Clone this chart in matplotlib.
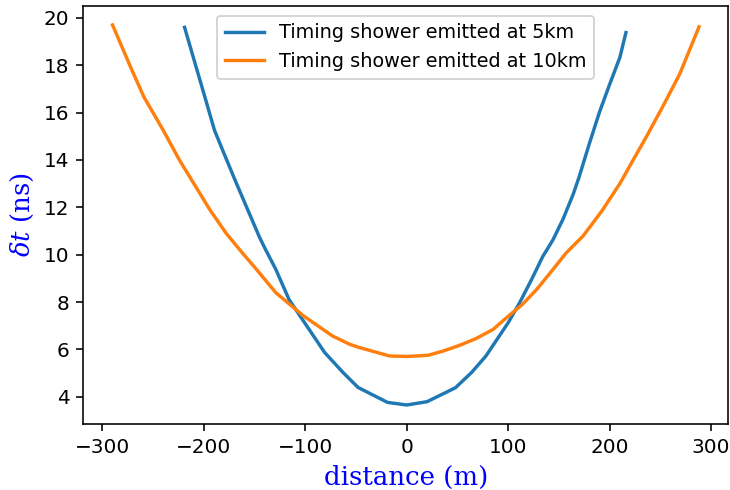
import matplotlib
matplotlib.use("Agg")
import matplotlib.pyplot as plt

plt.rcParams['mathtext.fontset'] = 'dejavuserif'

# 5 km curve
blue_x = [-219, -208, -198, -189.5, -178, -168, -155, -145, -139, -129, -116, -100,
          -81, -63, -48, -19, 0, 20, 48, 64, 78, 100, 111, 123, 134, 144, 154,
          164, 170, 180, 190, 200, 210, 216]
blue_y = [19.6, 17.98, 16.51, 15.25, 14.05, 13.02, 11.72, 10.72, 10.2, 9.37, 8.1, 7.08,
          5.87, 5.03, 4.39, 3.76, 3.65, 3.79, 4.38, 5.03, 5.72, 7.13, 7.95, 8.95,
          9.92, 10.62, 11.5, 12.55, 13.3, 14.7, 16.03, 17.2, 18.33, 19.38]

# 10 km curve
orange_x = [-290, -272, -259, -240, -224, -208, -194, -178, -162, -148, -129, -102,
            -73, -56, -47, -17, 0, 21, 36, 52, 68, 85, 100, 114, 128, 144, 157,
            174, 193, 210, 223, 236, 252, 269, 288]
orange_y = [19.7, 17.9, 16.65, 15.25, 13.99, 12.87, 11.89, 10.9, 10.07, 9.37, 8.39, 7.42,
            6.56, 6.21, 6.08, 5.72, 5.70, 5.75, 5.93, 6.17, 6.45, 6.84, 7.4, 7.9,
            8.53, 9.37, 10.07, 10.8, 11.89, 13.0, 13.99, 14.97, 16.23, 17.63, 19.62]

labels = ["Timing shower emitted at 5km", "Timing shower emitted at 10km"]

dpi = 144
fig = plt.figure(figsize=(730 / dpi, 490 / dpi), dpi=dpi)
ax = fig.add_axes([0.114, 0.1347, 0.8837, 0.8531])
ax.plot(blue_x, blue_y, color='#1f77b4', lw=1.7, label=labels[0])
ax.plot(orange_x, orange_y, color='#ff7f0e', lw=1.7, label=labels[1])
ax.tick_params(labelsize=10)
ax.set_xlabel("distance (m)", family='DejaVu Serif', color='blue', fontsize=13)
ax.set_ylabel(r"$\delta t$ (ns)", family='DejaVu Serif', color='blue', fontsize=13)
ax.legend(loc='upper center', fontsize=9.6)
fig.savefig("out.png", dpi=dpi)
